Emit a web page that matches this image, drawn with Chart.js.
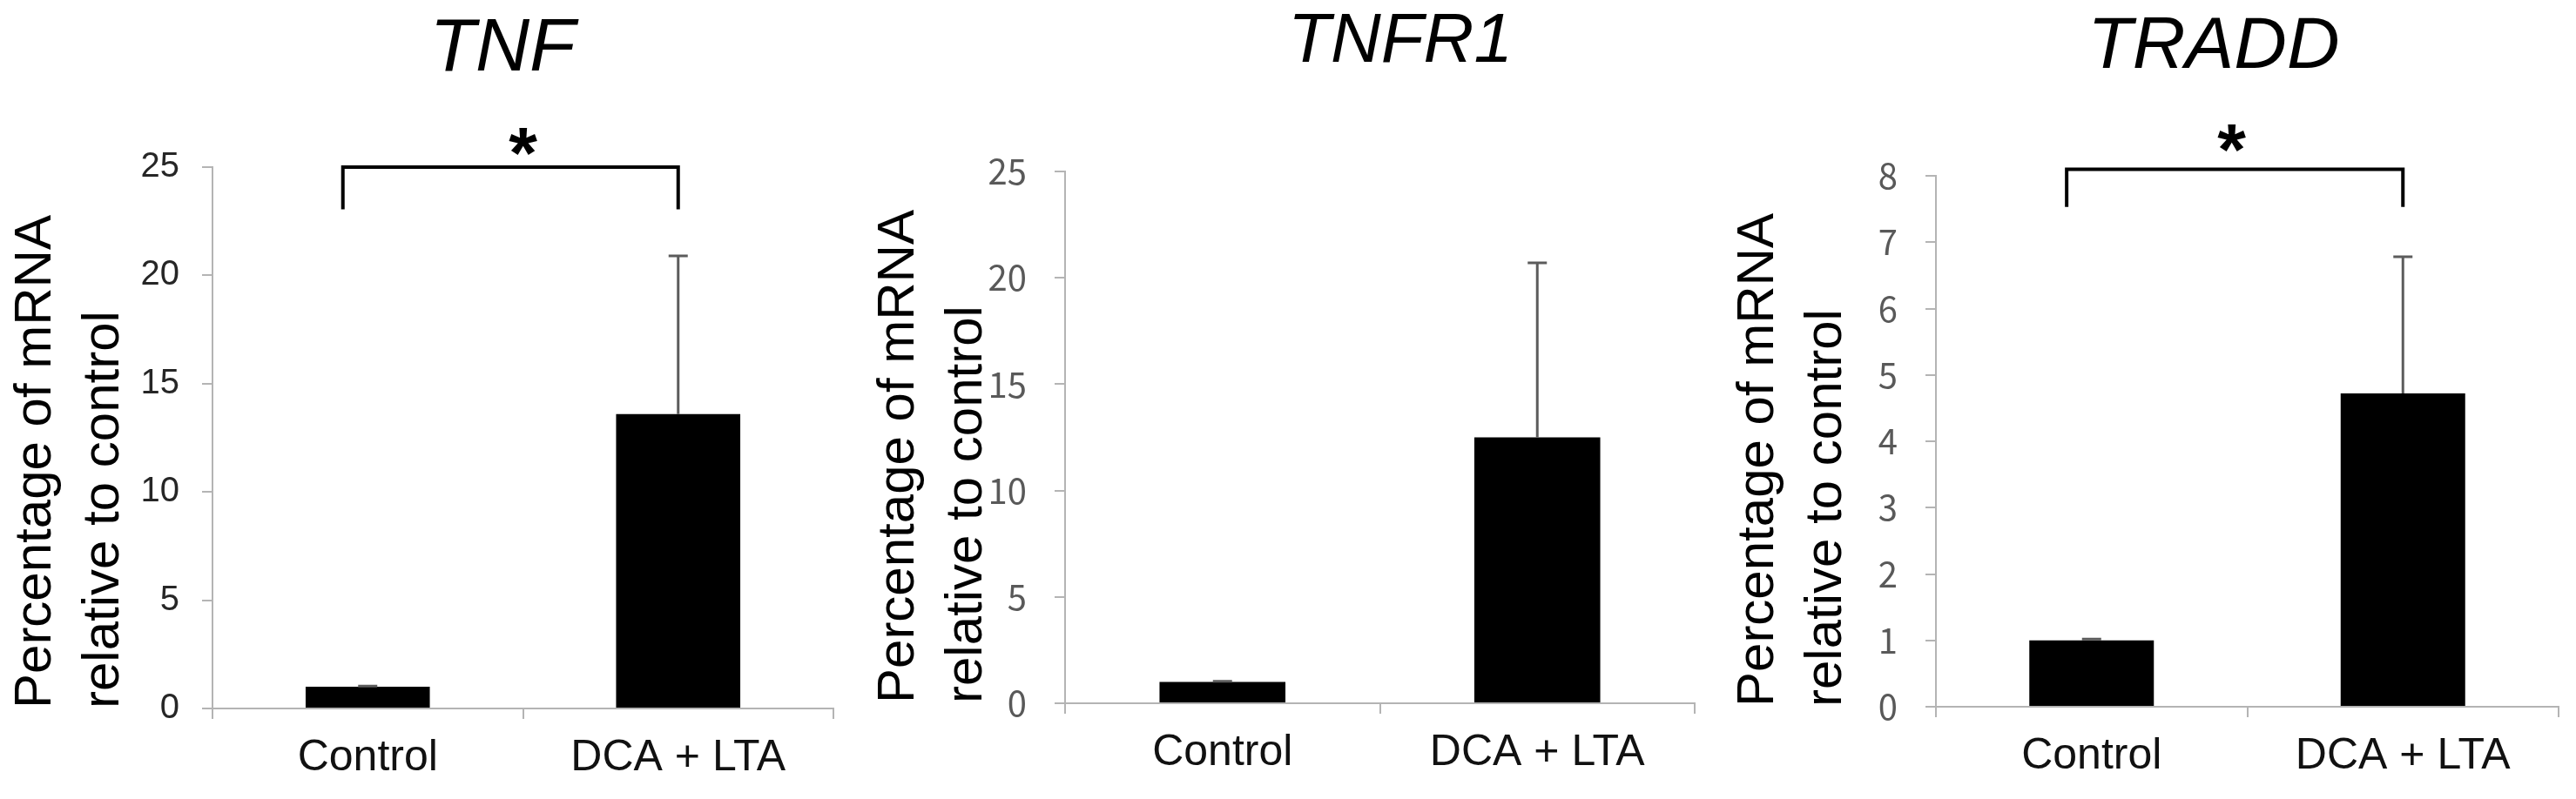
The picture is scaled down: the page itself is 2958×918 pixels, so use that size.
<!DOCTYPE html>
<html>
<head>
<meta charset="utf-8">
<title>TNF / TNFR1 / TRADD mRNA</title>
<script src="https://cdn.jsdelivr.net/npm/chart.js@4.4.1/dist/chart.umd.min.js"></script>
<style>
  html, body { margin: 0; padding: 0; background: #fff; }
  #page { position: relative; width: 2958px; height: 918px; overflow: hidden; background: #fff; }
  .panel { position: absolute; top: 0; height: 918px; }
</style>
</head>
<body>
<div id="page">
  <div class="panel" style="left:0px;width:986px"><canvas id="chart0"></canvas></div>
  <div class="panel" style="left:991px;width:986px"><canvas id="chart1"></canvas></div>
  <div class="panel" style="left:1978px;width:980px"><canvas id="chart2"></canvas></div>
</div>
<script>
// values (mean and upper SD)
const categories = ['Control', 'DCA + LTA'];
const genes = ['TNF', 'TNFR1', 'TRADD'];
const tnfValues = [1.0, 13.6];
const tnfErrors = [0.03, 7.3];
const tnfr1Values = [1.0, 12.5];
const tnfr1Errors = [0.03, 8.2];
const traddValues = [1.0, 4.72];
const traddErrors = [0.02, 2.06];
const yMax = [25, 25, 8];
const yStep = [5, 5, 1];
const yTitleLines = ['Percentage of mRNA', 'relative to control'];
// significance marks, in data units (null = none)
const bracketTop = [25, null, 8.1];
const bracketLeg = [23.05, null, 7.53];
const starLevel = [26.4, null, 8.64];

const seriesValues = [tnfValues, tnfr1Values, traddValues];
const seriesErrors = [tnfErrors, tnfr1Errors, traddErrors];

// page layout for each panel (pixels, relative to its canvas)
const panelLayout = [
    { axisWidth: 244, padRight: 29, top: 192, bottom: 814, titleX: 577, titleY: 57, titleSize: 86,
      tickFont: 'Liberation Sans', tickColor: '#262626', tickPad: 26, starX: 0.5 },
    { axisWidth: 232, padRight: 31, top: 197, bottom: 808, titleX: 617, titleY: 49, titleSize: 80,
      tickFont: 'Noto Sans CJK JP', tickColor: '#595959', tickPad: 32, starX: 0.5 },
    { axisWidth: 245, padRight: 20, top: 202, bottom: 812, titleX: 564, titleY: 55, titleSize: 84,
      tickFont: 'Noto Sans CJK JP', tickColor: '#595959', tickPad: 32, starX: 0.45 }
];

const AXIS_GREY = '#b4b4b4';
const CANVAS_H = 918;

const panelExtras = {
    id: 'panelExtras',
    afterDatasetsDraw(chart, args, opts) {
        const { ctx } = chart;
        const y = chart.scales.y;
        const meta = chart.getDatasetMeta(0);
        ctx.save();
        ctx.strokeStyle = '#5c5c5c';
        ctx.lineWidth = 3;
        meta.data.forEach((bar, i) => {
            const top = y.getPixelForValue(opts.values[i] + opts.errors[i]);
            ctx.beginPath();
            ctx.moveTo(bar.x, bar.y);
            ctx.lineTo(bar.x, top);
            ctx.moveTo(bar.x - 11, top);
            ctx.lineTo(bar.x + 11, top);
            ctx.stroke();
        });
        ctx.restore();
    },
    afterDraw(chart, args, opts) {
        const { ctx } = chart;
        const x = chart.scales.x;
        const y = chart.scales.y;
        ctx.save();
        // gene name, italic
        ctx.fillStyle = '#000';
        ctx.font = `italic ${opts.titleSize}px "Liberation Sans", Arial, sans-serif`;
        ctx.textAlign = 'center';
        ctx.textBaseline = 'middle';
        ctx.fillText(opts.title, opts.titleX, opts.titleY);

        if (opts.bracketTop !== null) {
            const xl = x.getPixelForValue(-0.08);
            const xr = x.getPixelForValue(1.0);
            const yt = y.getPixelForValue(opts.bracketTop);
            const yl = y.getPixelForValue(opts.bracketLeg);
            ctx.strokeStyle = '#000';
            ctx.lineWidth = 4;
            ctx.lineJoin = 'miter';
            ctx.beginPath();
            ctx.moveTo(xl, yl);
            ctx.lineTo(xl, yt);
            ctx.lineTo(xr, yt);
            ctx.lineTo(xr, yl);
            ctx.stroke();

            const starSize = 84;
            ctx.font = `bold ${starSize}px "Liberation Sans", Arial, sans-serif`;
            ctx.textBaseline = 'alphabetic';
            const sy = y.getPixelForValue(opts.starLevel) + 0.57 * starSize;
            ctx.fillText('*', x.getPixelForValue(opts.starX), sy);
        }
        ctx.restore();
    }
};

function makePanel(i) {
    const lay = panelLayout[i];
    const ctx = document.getElementById('chart' + i).getContext('2d');
    return new Chart(ctx, {
        type: 'bar',
        data: {
            labels: categories,
            datasets: [{
                label: genes[i],
                data: seriesValues[i],
                backgroundColor: '#000',
                borderWidth: 0,
                barPercentage: 0.4,
                categoryPercentage: 1.0
            }]
        },
        options: {
            responsive: true,
            maintainAspectRatio: false,
            animation: false,
            devicePixelRatio: 1,
            layout: {
                padding: { top: lay.top, left: 0, right: lay.padRight, bottom: 0 }
            },
            scales: {
                x: {
                    offset: true,
                    grid: { drawOnChartArea: false, drawTicks: true, tickLength: 12, color: AXIS_GREY, lineWidth: 2, offset: true },
                    border: { color: AXIS_GREY, width: 2 },
                    ticks: {
                        color: '#111',
                        padding: 15,
                        font: { family: '"Liberation Sans", Arial, sans-serif', size: 50 }
                    },
                    afterFit: (s) => { s.height = CANVAS_H - lay.bottom; }
                },
                y: {
                    min: 0,
                    max: yMax[i],
                    grid: { drawOnChartArea: false, drawTicks: true, tickLength: 12, color: AXIS_GREY, lineWidth: 2 },
                    border: { color: AXIS_GREY, width: 2 },
                    ticks: {
                        stepSize: yStep[i],
                        color: lay.tickColor,
                        padding: lay.tickPad,
                        font: { family: `"${lay.tickFont}", sans-serif`, size: 40 }
                    },
                    title: {
                        display: true,
                        text: yTitleLines,
                        align: 'start',
                        color: '#000',
                        padding: { top: 2, bottom: 0 },
                        font: { family: '"Liberation Sans", Arial, sans-serif', size: 60, lineHeight: 1.3 }
                    },
                    afterFit: (s) => { s.width = lay.axisWidth; }
                }
            },
            plugins: {
                legend: { display: false },
                tooltip: { enabled: false },
                panelExtras: {
                    title: genes[i],
                    titleX: lay.titleX,
                    titleY: lay.titleY,
                    titleSize: lay.titleSize,
                    values: seriesValues[i],
                    errors: seriesErrors[i],
                    bracketTop: bracketTop[i],
                    bracketLeg: bracketLeg[i],
                    starLevel: starLevel[i],
                    starX: lay.starX
                }
            }
        },
        plugins: [panelExtras]
    });
}

genes.forEach((_, i) => makePanel(i));
</script>
</body>
</html>
